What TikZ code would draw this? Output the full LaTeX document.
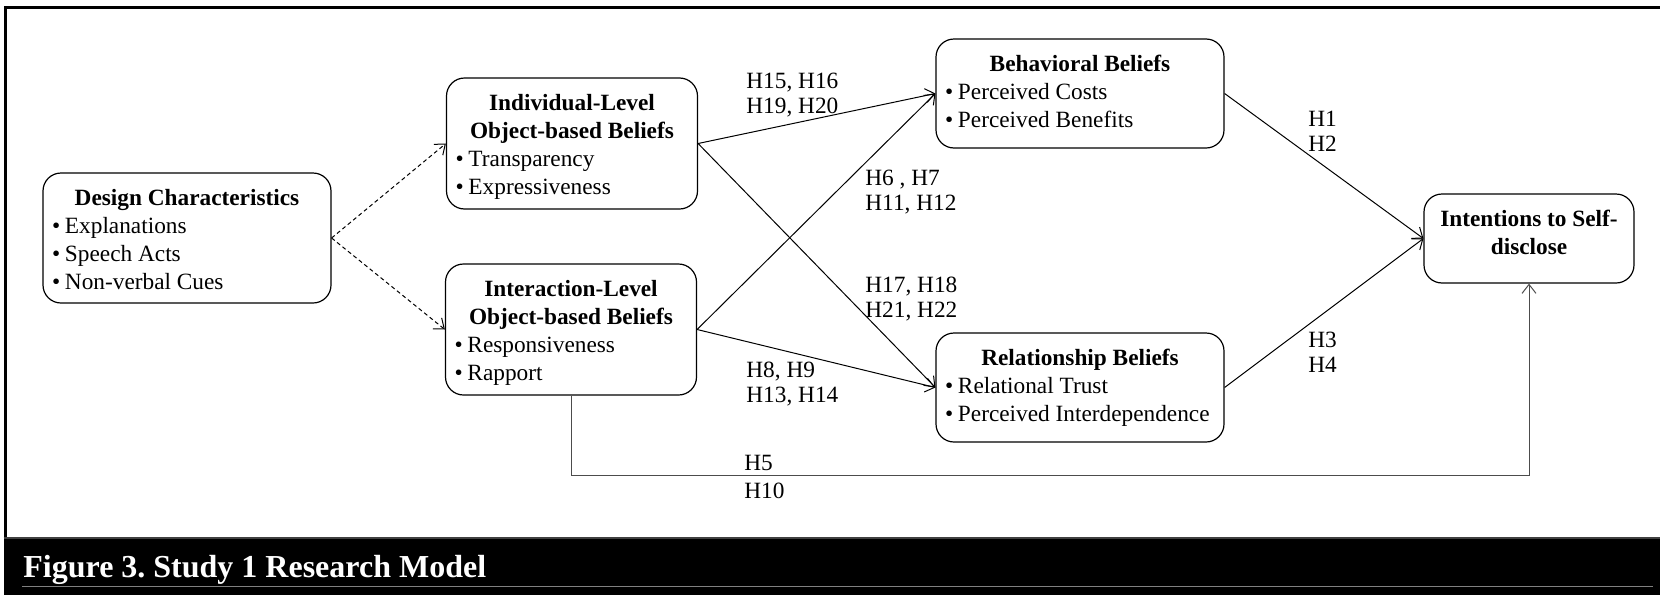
\documentclass[tikz,border=0pt]{standalone}
\usepackage{fontspec}
\setmainfont{Liberation Serif}
\usetikzlibrary{arrows.meta}
\frenchspacing

\newcommand{\bfnt}{\fontsize{11.65pt}{14pt}\selectfont}
\newcommand{\hfnt}{\fontsize{11.65pt}{12.5pt}\selectfont}
\newcommand{\capfnt}{\fontsize{16pt}{18pt}\selectfont}
\newcommand{\ttl}[1]{{\centering\textbf{\strut#1}\par}}
\newcommand{\itm}[1]{\hspace*{4.5pt}\makebox[6.5pt][l]{\textbullet}#1\par}
\newcommand{\boxtext}[3]{\parbox[c][#2][t]{#1}{\vspace*{6.3pt}#3}}

\begin{document}
\begin{tikzpicture}[x=0.5pt,y=-0.5pt,
    belief/.style={draw, rounded corners=9pt, line width=0.6pt},
    conn/.style={-{Straight Barb[length=4.5pt,width=7pt]}, line width=0.5pt},
    dconn/.style={conn, dash pattern=on 2pt off 1.5pt},
    hyp/.style={anchor=base west, align=left, font=\hfnt}]
    \tikzstyle{every node}+=[inner sep=0pt, font=\bfnt]
    \useasboundingbox (0,0) rectangle (1660,595);
    \draw [line width=1.5pt] (1660,7) -- (5,7) -- (5,537);
    \fill [black] (3.5,537) rectangle (1660,595);
    \draw [black!75, line width=0.75pt] (3.5,538) -- (1660,538);
    \draw [black!50, line width=0.5pt] (22,586) -- (1653,586);
    \node [anchor=base west, text=white, font=\capfnt] (cap) at (23,577) {\textbf{Figure 3. Study 1 Research Model}};
    \node [belief] (design) at (187,238) {\boxtext{144pt}{65pt}{\ttl{Design Characteristics}\itm{Explanations}\itm{Speech Acts}\itm{Non-verbal Cues}}};
    \node [belief] (indiv) at (572,143.5) {\boxtext{125.5pt}{65.5pt}{\ttl{Individual-Level\\Object-based Beliefs}\itm{Transparency}\itm{Expressiveness}}};
    \node [belief] (inter) at (571,329.5) {\boxtext{125.5pt}{65.5pt}{\ttl{Interaction-Level\\Object-based Beliefs}\itm{Responsiveness}\itm{Rapport}}};
    \node [belief] (behav) at (1080,93.5) {\boxtext{144pt}{54.5pt}{\ttl{Behavioral Beliefs}\itm{Perceived Costs}\itm{Perceived Benefits}}};
    \node [belief] (relat) at (1080,387.5) {\boxtext{144pt}{54.5pt}{\ttl{Relationship Beliefs}\itm{Relational Trust}\itm{Perceived Interdependence}}};
    \node [belief] (intent) at (1529,238.5) {\boxtext{105pt}{44.5pt}{\ttl{Intentions to Self-\\disclose}}};
    \draw [dconn] (design.east) -- (indiv.west);
    \draw [dconn] (design.east) -- (inter.west);
    \draw [conn] (indiv.east) -- (behav.west);
    \draw [conn] (indiv.east) -- (relat.west);
    \draw [conn] (inter.east) -- (behav.west);
    \draw [conn] (inter.east) -- (relat.west);
    \draw [conn] (behav.east) -- (intent.west);
    \draw [conn] (relat.east) -- (intent.west);
    \coordinate (h5bend) at (571,475);
    \draw [conn, draw=black!70] (inter.south) -- (h5bend) -| (intent.south);
    \node [hyp] (h1516) at (746,113) {H15, H16\\H19, H20};
    \node [hyp] (h67) at (865,210) {H6 , H7\\H11, H12};
    \node [hyp] (h1718) at (865,317) {H17, H18\\H21, H22};
    \node [hyp] (h89) at (746,402) {H8, H9\\H13, H14};
    \node [hyp] (h12) at (1308,151) {H1\\H2};
    \node [hyp] (h34) at (1308,372) {H3\\H4};
    \node [hyp] (h5) at (744,470) {H5};
    \node [hyp] (h10) at (744,498) {H10};
\end{tikzpicture}
\end{document}
